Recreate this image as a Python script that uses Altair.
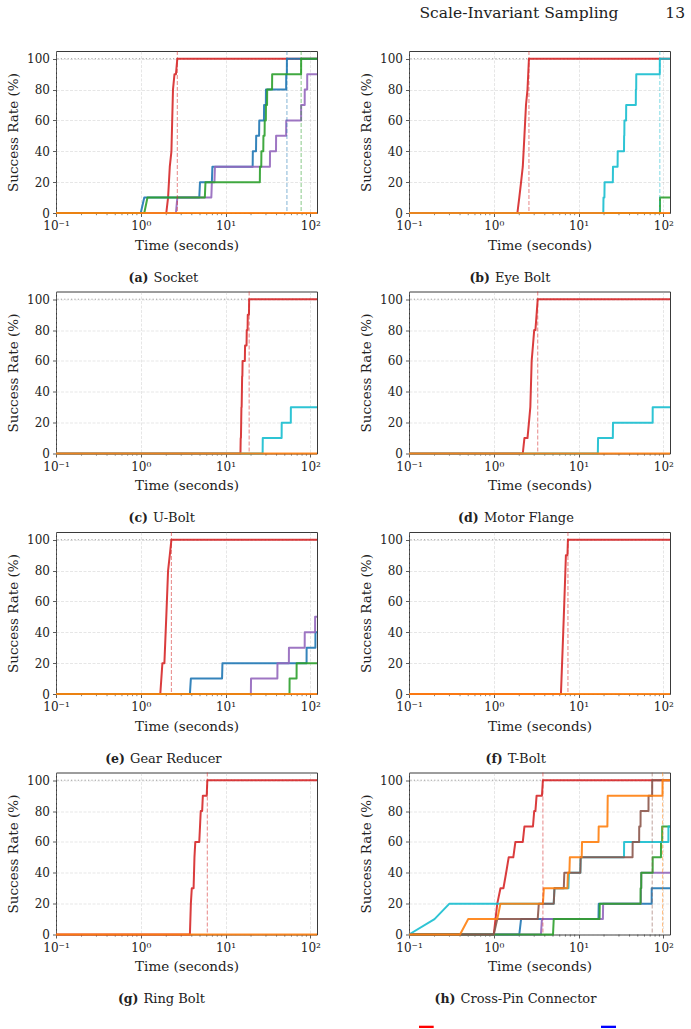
import altair as alt
import pandas as pd

# ---------------- data ----------------
# every series: list of (time [s], success rate [%] reached at that time)
socket_red    = [(2.1, 10), (2.2, 30), (2.3, 40), (2.4, 80), (2.5, 90), (2.7, 100)]
socket_blue   = [(1.1, 10), (5.0, 20), (7.0, 30), (21, 40), (23, 50), (25, 60), (28.5, 70), (30, 80), (52, 90), (53, 100)]
socket_purple = [(2.7, 10), (6.9, 20), (7.5, 30), (33.5, 40), (39.5, 50), (52, 60), (78, 70), (86, 80), (92, 90)]
socket_green  = [(1.2, 10), (5.8, 20), (25.5, 30), (26.5, 40), (28, 50), (29, 60), (30, 70), (31, 80), (35.5, 90), (78, 100)]
socket_orange = []
socket_done   = [("red", 2.7), ("blue", 53), ("green", 78)]

eyebolt_red    = [(2.0, 10), (2.1, 20), (2.2, 30), (2.3, 50), (2.4, 70), (2.5, 80), (2.6, 100)]
eyebolt_green  = [(91.5, 10)]
eyebolt_cyan   = [(19.7, 10), (20.3, 20), (25.5, 30), (29, 40), (34.5, 50), (34.8, 60), (36.5, 70), (47.5, 80), (48, 90), (91, 100)]
eyebolt_orange = []
eyebolt_done   = [("red", 2.6), ("cyan", 91)]

ubolt_red    = [(15.1, 10), (15.3, 20), (15.4, 30), (15.6, 40), (15.7, 50), (15.9, 60), (17.0, 70), (17.8, 80), (18.3, 90), (19.0, 100)]
ubolt_cyan   = [(27.5, 10), (46, 20), (59, 30)]
ubolt_orange = []
ubolt_done   = [("red", 19.0)]

flange_red    = [(2.3, 10), (2.6, 20), (2.7, 30), (2.8, 60), (2.9, 70), (3.0, 80), (3.2, 90), (3.3, 100)]
flange_cyan   = [(17, 10), (25.5, 20), (75, 30)]
flange_orange = []
flange_done   = [("red", 3.3)]

gear_red    = [(1.8, 20), (2.0, 50), (2.1, 80), (2.2, 90), (2.3, 100)]
gear_blue   = [(3.9, 10), (9.2, 20), (90.5, 30), (115, 40)]
gear_purple = [(20, 10), (41, 20), (56, 30), (86, 40), (114, 50)]
gear_green  = [(57, 10), (69, 20)]
gear_orange = []
gear_done   = [("red", 2.3)]

tbolt_red    = [(6.3, 10), (6.4, 20), (6.5, 30), (6.6, 40), (6.7, 50), (6.8, 60), (6.9, 70), (7.0, 80), (7.1, 90), (7.5, 100)]
tbolt_orange = []
tbolt_done   = [("red", 7.5)]

ring_red    = [(3.9, 20), (4.0, 30), (4.3, 50), (4.4, 60), (5.0, 70), (5.1, 80), (5.4, 90), (6.1, 100)]
ring_orange = []
ring_done   = [("red", 6.1)]

cross_red    = [(1.1, 20), (1.2, 30), (1.4, 40), (1.5, 50), (1.8, 60), (2.3, 70), (3.0, 80), (3.2, 90), (3.8, 100)]
cross_blue   = [(2.1, 10), (17.3, 20), (73, 30)]
cross_purple = [(3.7, 10), (19.5, 20), (54.5, 30), (55, 40)]
cross_green  = [(5.1, 10), (17.8, 20), (54, 30), (55, 40), (75, 50), (94, 60), (97, 70)]
cross_cyan   = [(0.2, 10), (0.3, 20), (5.2, 30), (7.7, 40), (10.6, 50), (34.5, 60), (115, 70)]
cross_brown  = [(1.1, 10), (3.4, 20), (5.2, 30), (6.8, 40), (10.6, 50), (43.5, 60), (52, 70), (54, 80), (67, 90), (74, 100)]
cross_orange = [(0.5, 10), (1.2, 20), (3.9, 30), (7.5, 40), (7.9, 50), (11, 60), (17.3, 70), (22, 80), (22.1, 90), (98, 100)]
cross_done   = [("red", 3.8), ("brown", 74), ("orange", 98)]

captions_label = ["(a)", "(b)", "(c)", "(d)", "(e)", "(f)", "(g)", "(h)"]
captions_name = ["Socket", "Eye Bolt", "U-Bolt", "Motor Flange", "Gear Reducer", "T-Bolt", "Ring Bolt", "Cross-Pin Connector"]

x_tick_values = [0.1, 1, 10, 100]
x_minor_values = [0.2, 0.3, 0.4, 0.5, 0.6, 0.7, 0.8, 0.9, 2, 3, 4, 5, 6, 7, 8, 9, 20, 30, 40, 50, 60, 70, 80, 90]
y_tick_values = [0, 20, 40, 60, 80, 100]

COLORS = {"red": "#d62728", "blue": "#1f77b4", "orange": "#ff7f0e", "green": "#2ca02c",
          "purple": "#9467bd", "brown": "#8c564b", "cyan": "#17becf"}
DRAW_ORDER = ["red", "blue", "purple", "green", "cyan", "brown", "orange"]

panel_series = [
    {"red": socket_red, "blue": socket_blue, "purple": socket_purple, "green": socket_green, "orange": socket_orange},
    {"red": eyebolt_red, "green": eyebolt_green, "cyan": eyebolt_cyan, "orange": eyebolt_orange},
    {"red": ubolt_red, "cyan": ubolt_cyan, "orange": ubolt_orange},
    {"red": flange_red, "cyan": flange_cyan, "orange": flange_orange},
    {"red": gear_red, "blue": gear_blue, "purple": gear_purple, "green": gear_green, "orange": gear_orange},
    {"red": tbolt_red, "orange": tbolt_orange},
    {"red": ring_red, "orange": ring_orange},
    {"red": cross_red, "blue": cross_blue, "purple": cross_purple, "green": cross_green,
     "cyan": cross_cyan, "brown": cross_brown, "orange": cross_orange},
]
panel_done = [socket_done, eyebolt_done, ubolt_done, flange_done, gear_done, tbolt_done, ring_done, cross_done]

# ---------------- layout ----------------
W, H = 261, 162
T0, T1, DT = 0.1, 120.0, 0.1
SERIF = "DejaVu Serif"
# caption: right edge of bold label, left edge of name (relative to plot left)
CAP_POS = [(92.5, 97.5), (81, 86), (92, 97), (69.7, 75), (69, 74), (93.7, 98.7), (82.5, 87.5), (46.5, 51.5)]
CAP_Y = 226.5


def step_path(events):
    xs, ys = [T0], [0]
    prev = 0
    for t, v in events:
        tp = round(t - DT, 4)
        if tp > xs[-1] + 1e-9:
            xs.append(tp)
            ys.append(prev)
        xs.append(t)
        ys.append(v)
        prev = v
    xs.append(T1)
    ys.append(prev)
    return xs, ys


xscale = alt.Scale(type="log", domain=[T0, T1], nice=False)
yscale = alt.Scale(domain=[0, 105], nice=False, zero=False)
label_expr = ("datum.value < 0.5 ? '10\u207b\u00b9' : datum.value < 5 ? '10\u2070' : "
              "datum.value < 50 ? '10\u00b9' : '10\u00b2'")
xaxis = alt.Axis(title="Time (seconds)", values=x_tick_values, labelExpr=label_expr, grid=True,
                 labelFlush=False, labelOverlap=False, labelBound=False, titlePadding=6.5, labelPadding=4)
yaxis = alt.Axis(title="Success Rate (%)", values=y_tick_values, grid=True, labelOverlap=False,
                 titlePadding=6, labelPadding=3)

minor_df = pd.DataFrame({"m": x_minor_values})


def make_panel(i):
    layers = []
    layers.append(
        alt.Chart(pd.DataFrame({"y": [100]})).mark_rule(color="#808080", strokeDash=[1.2, 2.2],
                                                        strokeWidth=1, opacity=0.75)
        .encode(y=alt.Y("y:Q", scale=yscale, axis=yaxis))
    )
    layers.append(
        alt.Chart(minor_df).mark_rule(color="#333333", strokeWidth=0.6)
        .encode(x=alt.X("m:Q", scale=xscale, axis=xaxis), y=alt.value(H), y2=alt.value(H + 2.2))
    )
    series = panel_series[i]
    for name in DRAW_ORDER:
        if name not in series:
            continue
        xs, ys = step_path(series[name])
        df = pd.DataFrame({"t": xs, "v": ys, "k": list(range(len(xs)))})
        layers.append(
            alt.Chart(df).mark_line(color=COLORS[name], strokeWidth=2, opacity=0.9,
                                    strokeJoin="round", clip=False)
            .encode(x=alt.X("t:Q", scale=xscale, axis=xaxis),
                    y=alt.Y("v:Q", scale=yscale, axis=yaxis),
                    order=alt.Order("k:Q"))
        )
    for name, t in panel_done[i]:
        layers.append(
            alt.Chart(pd.DataFrame({"t": [t]})).mark_rule(color=COLORS[name], strokeDash=[4, 2],
                                                          strokeWidth=1.1, opacity=0.5)
            .encode(x=alt.X("t:Q", scale=xscale, axis=xaxis))
        )
    lx, nx = CAP_POS[i]
    layers.append(
        alt.Chart(pd.DataFrame({"a": [0]})).mark_text(text=captions_label[i], font=SERIF, fontSize=12.5,
                                                      fontWeight="bold", align="right", baseline="middle",
                                                      color="#222222")
        .encode(x=alt.value(lx), y=alt.value(CAP_Y))
    )
    layers.append(
        alt.Chart(pd.DataFrame({"a": [0]})).mark_text(text=captions_name[i], font=SERIF, fontSize=13,
                                                      align="left", baseline="middle", color="#222222")
        .encode(x=alt.value(nx), y=alt.value(CAP_Y))
    )
    if i == 1:
        layers.append(
            alt.Chart(pd.DataFrame({"a": [0]})).mark_text(text="Scale-Invariant Sampling", font=SERIF,
                                                          fontSize=15.5, align="center",
                                                          baseline="alphabetic", color="#222222")
            .encode(x=alt.value(110), y=alt.value(-33))
        )
        layers.append(
            alt.Chart(pd.DataFrame({"a": [0]})).mark_text(text="13", font=SERIF, fontSize=15.5,
                                                          align="right", baseline="alphabetic",
                                                          color="#222222")
            .encode(x=alt.value(276), y=alt.value(-33))
        )
    if i == 7:
        layers.append(
            alt.Chart(pd.DataFrame({"a": [0]})).mark_rect(color="#ff0000")
            .encode(x=alt.value(10), x2=alt.value(24.7), y=alt.value(253.2), y2=alt.value(255.5))
        )
        layers.append(
            alt.Chart(pd.DataFrame({"a": [0]})).mark_rect(color="#0000ff")
            .encode(x=alt.value(192), x2=alt.value(207), y=alt.value(253.2), y2=alt.value(255.5))
        )
    return alt.layer(*layers).properties(width=W, height=H)


panels = [make_panel(i) for i in range(8)]

chart = alt.concat(*panels, columns=2, spacing={"row": 78.5, "column": 92}, bounds="flush").properties(
    padding={"left": 6, "top": 5, "right": 0, "bottom": 0},
    background="white",
).configure_view(
    stroke="#3a3a3a", strokeWidth=1
).configure_axis(
    labelFont=SERIF, titleFont=SERIF, labelFontSize=12, titleFontSize=13.5, titleFontWeight="normal",
    labelColor="#222222", titleColor="#222222", tickColor="#333333", tickSize=3.5, tickWidth=0.8,
    domain=False, gridColor="#b0b0b0", gridOpacity=0.4, gridDash=[3, 1.5], gridWidth=0.8,
)

chart.save("out.html", embed_options={"renderer": "svg", "actions": False})
